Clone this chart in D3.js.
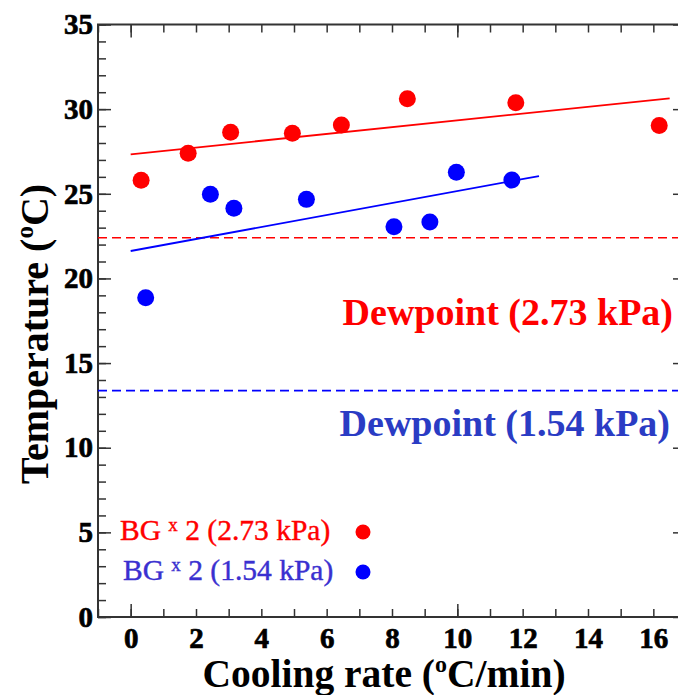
<!DOCTYPE html>
<html>
<head>
<meta charset="utf-8">
<script src="https://cdn.jsdelivr.net/npm/d3@7"></script>
<style>
  body { margin: 0; background: #fff; }
  svg { display: block; }
  text { font-family: "Liberation Serif", "Times New Roman", serif; }
</style>
</head>
<body>
<svg id="chart" width="678" height="695"></svg>
<script>
// cooling rate (oC/min) vs temperature (oC)
const red = [
  { x: 0.32, y: 25.8 },
  { x: 1.76, y: 27.4 },
  { x: 3.06, y: 28.63 },
  { x: 4.95, y: 28.57 },
  { x: 6.45, y: 29.06 },
  { x: 8.47, y: 30.61 },
  { x: 11.79, y: 30.38 },
  { x: 16.18, y: 29.04 },
];
const blue = [
  { x: 0.46, y: 18.86 },
  { x: 2.44, y: 24.97 },
  { x: 3.16, y: 24.14 },
  { x: 5.38, y: 24.67 },
  { x: 8.06, y: 23.05 },
  { x: 9.16, y: 23.33 },
  { x: 9.97, y: 26.27 },
  { x: 11.67, y: 25.81 },
];
// linear fits, end points
const redFit = [{ x: 0, y: 27.33 }, { x: 16.5, y: 30.64 }];
const blueFit = [{ x: 0, y: 21.62 }, { x: 12.5, y: 26.05 }];
// dewpoints
const dewRed = 22.4;
const dewBlue = 13.37;

const xLabels = [0, 2, 4, 6, 8, 10, 12, 14, 16];
const xMinor = d3.range(-1, 18, 1);
const xMajor = [0, 10];
const yLabels = [0, 5, 10, 15, 20, 25, 30, 35];
const yMinor = d3.range(0, 36, 1);

const RED = "#ff0000";
const BLUE = "#0000ff";
const AXIS = "#333";

const svg = d3.select("svg#chart");
const x = d3.scaleLinear().domain([-1, 17]).range([98, 686]);
const y = d3.scaleLinear().domain([0, 35]).range([617, 24.5]);
const [x0, x1] = x.range();
const [y0, y1] = y.range();

function tickAxis(axis, pos, values, size) {
  const g = svg
    .append("g")
    .attr("transform", pos)
    .call(axis.tickValues(values).tickSize(size).tickSizeOuter(0).tickFormat(""));
  g.select(".domain").remove();
  g.selectAll("line").attr("stroke", AXIS).attr("stroke-width", 1.5);
  return g;
}

// ticks, pointing inward
tickAxis(d3.axisBottom(x), `translate(0,${y0})`, xMinor, -8);
tickAxis(d3.axisBottom(x), `translate(0,${y0})`, xMajor, -13);
tickAxis(d3.axisTop(x), `translate(0,${y1})`, xMinor, -8);
tickAxis(d3.axisTop(x), `translate(0,${y1})`, xMajor, -13);
tickAxis(d3.axisLeft(y), `translate(${x0},0)`, yMinor, -8);
tickAxis(d3.axisLeft(y), `translate(${x0},0)`, yLabels, -13);
tickAxis(d3.axisRight(y), `translate(${x1},0)`, yMinor, -8);
tickAxis(d3.axisRight(y), `translate(${x1},0)`, yLabels, -13);

// frame
svg
  .append("rect")
  .attr("x", x0)
  .attr("y", y1)
  .attr("width", x1 - x0)
  .attr("height", y0 - y1)
  .attr("fill", "none")
  .attr("stroke", AXIS)
  .attr("stroke-width", 2);

// tick labels
function labelStyle(g) {
  g.select(".domain").remove();
  g.selectAll("text")
    .style("font-family", "'Liberation Serif', serif")
    .style("font-size", "29px")
    .style("font-weight", "bold")
    .attr("fill", "#000")
    .attr("stroke", "#000")
    .attr("stroke-width", 0.7);
}
svg
  .append("g")
  .attr("transform", `translate(0,${y0})`)
  .call(d3.axisBottom(x).tickValues(xLabels).tickSize(0).tickPadding(10))
  .call(labelStyle);
svg
  .append("g")
  .attr("transform", `translate(${x0},0)`)
  .call(d3.axisLeft(y).tickValues(yLabels).tickSize(0).tickPadding(5))
  .call(labelStyle);

// axis titles
const xt = svg
  .append("text")
  .attr("x", 384)
  .attr("y", 687)
  .attr("text-anchor", "middle")
  .style("font-size", "39.5px")
  .style("font-weight", "bold");
xt.append("tspan").text("Cooling rate (");
xt.append("tspan").style("font-size", "24px").attr("dy", -15).text("o");
xt.append("tspan").attr("dy", 15).text("C/min)");

const yt = svg
  .append("text")
  .attr("transform", "translate(48,334) rotate(-90)")
  .attr("text-anchor", "middle")
  .style("font-size", "40px")
  .style("font-weight", "bold");
yt.append("tspan").text("Temperature (");
yt.append("tspan").style("font-size", "25px").attr("dy", -15).text("o");
yt.append("tspan").attr("dy", 15).text("C)");

// dewpoint lines
const plot = svg.append("g");
[
  [dewRed, RED],
  [dewBlue, BLUE],
].forEach(([v, c]) => {
  plot
    .append("line")
    .attr("x1", x0)
    .attr("x2", x1)
    .attr("y1", y(v))
    .attr("y2", y(v))
    .attr("stroke", c)
    .attr("stroke-width", 1.6)
    .attr("stroke-dasharray", "9,5");
});

// fit lines
const line = d3
  .line()
  .x((d) => x(d.x))
  .y((d) => y(d.y));
plot.append("path").datum(redFit).attr("d", line).attr("stroke", RED).attr("stroke-width", 1.8).attr("fill", "none");
plot.append("path").datum(blueFit).attr("d", line).attr("stroke", BLUE).attr("stroke-width", 1.8).attr("fill", "none");

// points
plot
  .selectAll("circle.red")
  .data(red)
  .join("circle")
  .attr("class", "red")
  .attr("cx", (d) => x(d.x))
  .attr("cy", (d) => y(d.y))
  .attr("r", 8.5)
  .attr("fill", RED);
plot
  .selectAll("circle.blue")
  .data(blue)
  .join("circle")
  .attr("class", "blue")
  .attr("cx", (d) => x(d.x))
  .attr("cy", (d) => y(d.y))
  .attr("r", 8.5)
  .attr("fill", BLUE);

// dewpoint labels
svg
  .append("text")
  .attr("x", 673)
  .attr("y", 325)
  .attr("text-anchor", "end")
  .style("font-size", "38px")
  .style("font-weight", "bold")
  .attr("fill", RED)
  .text("Dewpoint (2.73 kPa)");
svg
  .append("text")
  .attr("x", 670)
  .attr("y", 436)
  .attr("text-anchor", "end")
  .style("font-size", "38px")
  .style("font-weight", "bold")
  .attr("fill", "#2a3cc4")
  .text("Dewpoint (1.54 kPa)");

// legend
const legend = [
  { label: "(2.73 kPa)", color: RED, text: RED, y: 540, x: 120 },
  { label: "(1.54 kPa)", color: BLUE, text: "#3a30d0", y: 580, x: 123 },
];
legend.forEach((d) => {
  const t = svg
    .append("text")
    .attr("x", d.x)
    .attr("y", d.y)
    .style("font-size", "29.5px")
    .attr("fill", d.text)
    .attr("stroke", d.text)
    .attr("stroke-width", 0.4);
  t.append("tspan").text("BG ");
  t.append("tspan").style("font-size", "19px").attr("dy", -9).text("x");
  t.append("tspan").attr("dy", 9).text(" 2 " + d.label);
  svg
    .append("circle")
    .attr("cx", 363)
    .attr("cy", d.y - 8)
    .attr("r", 7.5)
    .attr("fill", d.color);
});
</script>
</body>
</html>
